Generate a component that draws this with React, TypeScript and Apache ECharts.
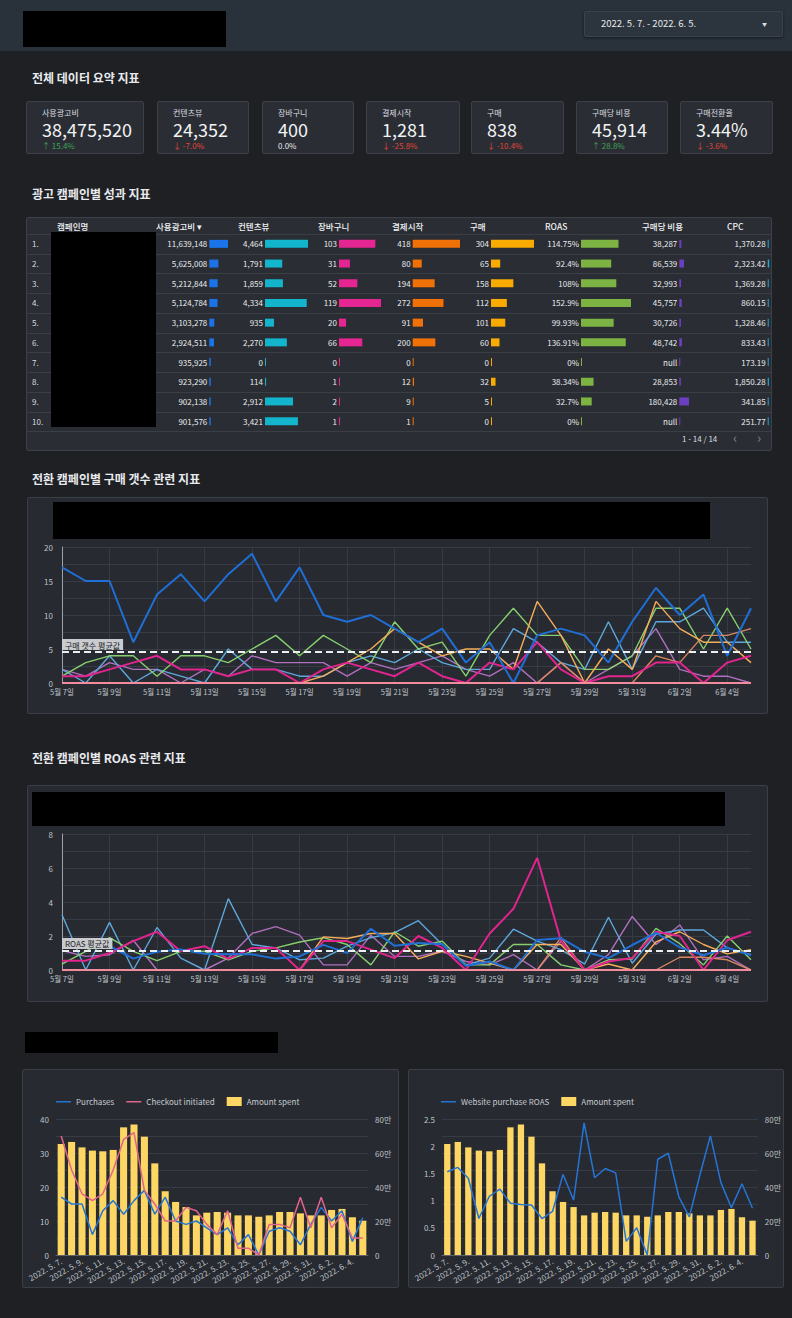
import React, { useEffect, useRef } from "react";
import * as echarts from "echarts";

const FONT = '"Noto Sans CJK KR", "Noto Sans", sans-serif';

// ---------- DATA ----------
const DATES = [
  "2022-05-07", "2022-05-08", "2022-05-09", "2022-05-10", "2022-05-11", "2022-05-12",
  "2022-05-13", "2022-05-14", "2022-05-15", "2022-05-16", "2022-05-17", "2022-05-18",
  "2022-05-19", "2022-05-20", "2022-05-21", "2022-05-22", "2022-05-23", "2022-05-24",
  "2022-05-25", "2022-05-26", "2022-05-27", "2022-05-28", "2022-05-29", "2022-05-30",
  "2022-05-31", "2022-06-01", "2022-06-02", "2022-06-03", "2022-06-04", "2022-06-05",
];

const KPI_LABELS = ["사용광고비", "컨텐츠뷰", "장바구니", "결제시작", "구매", "구매당 비용", "구매전환율"];
const KPI_VALUES = ["38,475,520", "24,352", "400", "1,281", "838", "45,914", "3.44%"];
const KPI_DELTAS = [15.4, -7.0, 0.0, -25.8, -10.4, 28.8, -3.6];

const TABLE_HEADERS = ["캠페인명", "사용광고비 ▾", "컨텐츠뷰", "장바구니", "결제시작", "구매", "ROAS", "구매당 비용", "CPC"];
const RANKS = ["1.", "2.", "3.", "4.", "5.", "6.", "7.", "8.", "9.", "10."];
const SPEND = [11639148, 5625008, 5212844, 5124784, 3103278, 2924511, 935925, 923290, 902138, 901576];
const CONTENT_VIEWS = [4464, 1791, 1859, 4334, 935, 2270, 0, 114, 2912, 3421];
const CARTS = [103, 31, 52, 119, 20, 66, 0, 1, 2, 1];
const CHECKOUTS = [418, 80, 194, 272, 91, 200, 0, 12, 9, 1];
const PURCHASES = [304, 65, 158, 112, 101, 60, 0, 32, 5, 0];
const ROAS = [114.75, 92.4, 108, 152.9, 99.93, 136.91, 0, 38.34, 32.7, 0];
const COST_PER_PURCHASE: (number | null)[] = [38287, 86539, 32993, 45757, 30726, 48742, null, 28853, 180428, null];
const CPC = [1370.28, 2323.42, 1369.28, 860.15, 1328.46, 833.43, 173.19, 1850.28, 341.85, 251.77];

// daily purchases per campaign
const P_C1 = [17, 15, 15, 6, 13, 16, 12, 16, 19, 12, 17, 10, 9, 10, 8, 6, 8, 3, 6, 0, 7, 8, 7, 3, 9, 14, 10, 13, 4, 11];
const P_C2 = [2, 1, 3, 2, 2, 0, 2, 1, 4, 3, 3, 3, 1, 3, 2, 3, 4, 2, 1, 3, 0, 3, 0, 2, 4, 8, 2, 1, 1, 0];
const P_C3 = [1, 3, 4, 4, 1, 4, 4, 3, 5, 7, 4, 7, 5, 3, 9, 5, 6, 1, 7, 11, 7, 7, 2, 2, 4, 11, 11, 5, 11, 5];
const P_C4 = [2, 0, 4, 0, 2, 1, 0, 5, 2, 2, 1, 1, 3, 4, 3, 5, 3, 2, 2, 8, 6, 3, 2, 9, 2, 9, 9, 11, 6, 6];
const P_C5 = [0, 0, 0, 0, 0, 0, 0, 0, 0, 0, 0, 1, 3, 5, 8, 6, 4, 5, 5, 2, 12, 7, 0, 5, 2, 12, 8, 6, 6, 3];
const P_C6 = [1, 1, 2, 3, 4, 2, 2, 1, 2, 2, 0, 2, 3, 2, 1, 3, 1, 0, 3, 2, 6, 2, 0, 1, 1, 3, 3, 0, 3, 4];
const P_C8 = [0, 0, 0, 0, 0, 0, 0, 0, 0, 0, 0, 0, 0, 0, 0, 0, 0, 0, 0, 0, 0, 3, 0, 0, 0, 4, 3, 7, 7, 8];
const P_ZERO = [0, 0, 0, 0, 0, 0, 0, 0, 0, 0, 0, 0, 0, 0, 0, 0, 0, 0, 0, 0, 0, 0, 0, 0, 0, 0, 0, 0, 0, 0];
const PURCHASE_AVG = 4.56;

// daily ROAS per campaign
const R_C1 = [1.53, 1.61, 1.41, 0.67, 1.08, 1.21, 0.95, 0.93, 0.92, 0.67, 0.8, 1.48, 1.01, 2.43, 1.42, 1.59, 1.51, 0.25, 0.5, 0, 1.76, 1.87, 1.07, 0.7, 1.47, 2.19, 1.33, 0.87, 1.31, 0.86];
const R_C2 = [1.15, 0.8, 0.9, 1.75, 0, 0, 0, 0.7, 2.15, 2.55, 2.05, 0.3, 0.3, 2.05, 0.8, 0.8, 1.1, 0.5, 0.3, 0.9, 0, 1.7, 0, 0.9, 3.15, 1.5, 2.65, 0.6, 0.8, 0];
const R_C3 = [0.35, 1.1, 1.9, 1.1, 0.55, 1.1, 1.1, 0.6, 1.1, 1.3, 1.65, 1.9, 1.5, 0.3, 2.25, 1.4, 1.7, 0.3, 0.3, 1.5, 1.5, 0.3, 0, 0.6, 0.65, 2.45, 1.55, 0.3, 2.0, 0.6];
const R_C4 = [3.25, 0, 2.8, 0, 2.5, 0.7, 0, 4.2, 1.5, 1.3, 0.6, 0.7, 1.4, 1.9, 2.2, 2.9, 1.5, 0.3, 0.7, 2.4, 1.7, 1.2, 0.35, 3.1, 0.4, 2.1, 2.35, 2.35, 1.3, 0.9];
const R_C5 = [0, 0, 0, 0, 0, 0, 0, 0, 0, 0, 0, 1.95, 1.85, 2.15, 2.15, 0.65, 1.1, 0.8, 0.4, 0, 1.5, 1.5, 0, 0.35, 0, 1.65, 2.25, 1.5, 0.95, 1.2];
const R_C6 = [0.55, 0.55, 1.0, 1.7, 2.25, 1.1, 1.4, 0.65, 1.3, 1.3, 0, 1.7, 1.7, 1.2, 0.7, 2.0, 1.3, 0, 2.15, 3.6, 6.6, 1.7, 0, 0.5, 0.7, 2.25, 2.0, 0, 1.75, 2.25];
const R_C8 = [0, 0, 0, 0, 0, 0, 0, 0, 0, 0, 0, 0, 0, 0, 0, 0, 0, 0, 0, 0, 0, 1.9, 0, 0, 0, 0, 0.75, 0.75, 0.6, 0];
const R_ZERO = [0, 0, 0, 0, 0, 0, 0, 0, 0, 0, 0, 0, 0, 0, 0, 0, 0, 0, 0, 0, 0, 0, 0, 0, 0, 0, 0, 0, 0, 0];
const ROAS_AVG = 1.12;

// top campaign daily detail
const AMOUNT_SPENT = [653000, 665000, 633000, 614000, 610000, 618000, 751000, 767000, 696000, 539000, 375000, 312000, 282000, 233000, 249000, 253000, 249000, 233000, 233000, 225000, 233000, 253000, 253000, 245000, 233000, 233000, 265000, 271000, 222000, 202000];
const CHECKOUT_INITIATED = [35, 25, 18, 16, 18, 25, 34, 36, 19, 15, 10, 10, 14, 13, 9, 6, 13, 2, 2, 0, 9, 9, 8, 17, 8, 17, 8, 12, 5, 5];

// ---------- helpers ----------
const koLabel = (d: string) => {
  const p = d.split("-");
  return `${+p[1]}월 ${+p[2]}일`;
};
const dotLabel = (d: string) => {
  const p = d.split("-");
  return `${p[0]}. ${+p[1]}. ${+p[2]}.`;
};
const intFmt = (v: number) => v.toLocaleString("en-US");
const decFmt = (v: number) => v.toLocaleString("en-US", { minimumFractionDigits: 2, maximumFractionDigits: 2 });

const LABEL_C = "#bfc3c9";
const GRID_C = "#373b43";
const LINE_ICON = "path://M0,0 L0.01,0 L0.01,0.01 Z M0,4 L15,4 L15,5.6 L0,5.6 Z M0,9 L0.01,9 L0.01,8.99 Z";

function EChart({ option, style }: { option: any; style: React.CSSProperties }) {
  const ref = useRef<HTMLDivElement>(null);
  useEffect(() => {
    const chart = echarts.init(ref.current!, undefined, { renderer: "svg" });
    chart.setOption(option);
    return () => chart.dispose();
  }, []);
  return <div ref={ref} style={{ position: "absolute", ...style }} />;
}

function Txt({ x, y, s, c = "#e8eaed", w = 400, children }: any) {
  return (
    <div
      style={{
        position: "absolute",
        left: x,
        top: y - s * 0.7,
        fontSize: s,
        lineHeight: `${s * 1.4}px`,
        color: c,
        fontWeight: w,
        whiteSpace: "nowrap",
        fontFamily: FONT,
      }}
    >
      {children}
    </div>
  );
}

function Box({ x, y, w, h, bg, border, radius = 2, shadow }: any) {
  return (
    <div
      style={{
        position: "absolute",
        left: x,
        top: y,
        width: w,
        height: h,
        background: bg,
        border: border ? `1px solid ${border}` : undefined,
        borderRadius: radius,
        boxSizing: "border-box",
        boxShadow: shadow,
      }}
    />
  );
}

// ---------- chart options ----------
function lineOption(series: any[], yMax: number, yStep: number, labelStep: number, avg: number, avgLabel: string, top: number) {
  return {
    animation: false,
    textStyle: { fontFamily: FONT },
    grid: { left: 36, right: 17, top, bottom: 32 },
    xAxis: {
      type: "category",
      data: DATES,
      boundaryGap: false,
      axisLine: { show: false },
      axisTick: { show: false },
      axisLabel: { interval: 1, formatter: koLabel, color: LABEL_C, fontSize: 7.5, margin: 5 },
      splitLine: { show: true, interval: 1, lineStyle: { color: GRID_C } },
    },
    yAxis: {
      type: "value",
      min: 0,
      max: yMax,
      interval: yStep,
      axisLine: { show: true, lineStyle: { color: "#9aa0a6" } },
      axisTick: { show: false },
      axisLabel: {
        color: LABEL_C,
        fontSize: 8,
        margin: 9,
        formatter: (v: number) => (Math.abs(v / labelStep - Math.round(v / labelStep)) < 1e-6 ? String(v) : ""),
      },
      splitLine: { lineStyle: { color: GRID_C } },
    },
    series: series.map((s) => ({
      type: "line",
      name: s.name,
      data: s.data,
      symbol: "none",
      z: s.z || 2,
      lineStyle: { color: s.color, width: s.width || 1.4 },
      itemStyle: { color: s.color },
      markLine: s.avg
        ? {
            silent: true,
            symbol: "none",
            data: [{ yAxis: avg }],
            lineStyle: { color: "#eceff1", type: [7, 4], width: 2 },
            label: {
              show: true,
              position: "insideStartTop",
              formatter: avgLabel,
              color: "#202124",
              backgroundColor: "#c9cbce",
              padding: [2, 3, 1, 3],
              fontSize: 8,
              distance: [0, 2],
            },
          }
        : undefined,
    })),
  };
}

const COLORS = {
  c1: "#1f6fd6",
  c2: "#b06fbf",
  c3: "#86cf6e",
  c4: "#5ea7dc",
  c5: "#f6ad5a",
  c6: "#e2248f",
  c8: "#d9875f",
  zero: "#f28b9c",
};

const purchaseOption = lineOption(
  [
    { name: "c2", data: P_C2, color: COLORS.c2 },
    { name: "c4", data: P_C4, color: COLORS.c4 },
    { name: "c3", data: P_C3, color: COLORS.c3 },
    { name: "c8", data: P_C8, color: COLORS.c8 },
    { name: "c5", data: P_C5, color: COLORS.c5 },
    { name: "c6", data: P_C6, color: COLORS.c6, width: 2 },
    { name: "c1", data: P_C1, color: COLORS.c1, width: 2 },
    { name: "zero", data: P_ZERO, color: COLORS.zero, width: 2, z: 5, avg: true },
  ],
  20, 2.5, 5, PURCHASE_AVG, "구매 갯수 평균값", 50
);

const roasOption = lineOption(
  [
    { name: "c2", data: R_C2, color: COLORS.c2 },
    { name: "c4", data: R_C4, color: COLORS.c4 },
    { name: "c3", data: R_C3, color: COLORS.c3 },
    { name: "c8", data: R_C8, color: COLORS.c8 },
    { name: "c5", data: R_C5, color: COLORS.c5 },
    { name: "c6", data: R_C6, color: COLORS.c6, width: 2 },
    { name: "c1", data: R_C1, color: COLORS.c1, width: 2 },
    { name: "zero", data: R_ZERO, color: COLORS.zero, width: 2, z: 5, avg: true },
  ],
  8, 1, 2, ROAS_AVG, "ROAS 평균값", 49
);

const manFmt = (v: number) => (v === 0 ? "0" : v % 200000 === 0 ? `${v / 10000}만` : "");

function comboOption(lines: any[], leftMax: number, leftStep: number, leftLabelStep: number, grid: any, legendLeft: number, barW: string, leftSplit: boolean) {
  return {
    animation: false,
    textStyle: { fontFamily: FONT },
    legend: {
      top: 23,
      left: legendLeft,
      itemWidth: 15,
      itemHeight: 9,
      itemGap: 12,
      textStyle: { color: "#c8ccd2", fontSize: 8 },
      data: [...lines.map((l) => ({ name: l.name, icon: LINE_ICON })), { name: "Amount spent", icon: "rect" }],
    },
    grid,
    xAxis: {
      type: "category",
      data: DATES,
      axisLine: { show: true, lineStyle: { color: "#5f6368" } },
      axisTick: { show: false },
      axisLabel: { interval: 1, rotate: 30, formatter: dotLabel, color: LABEL_C, fontSize: 8, margin: 5 },
    },
    yAxis: [
      {
        type: "value",
        min: 0,
        max: leftMax,
        interval: leftStep,
        axisLine: { show: false },
        axisTick: { show: false },
        axisLabel: {
          color: LABEL_C,
          fontSize: 8,
          margin: 7,
          formatter: (v: number) => (Math.abs(v / leftLabelStep - Math.round(v / leftLabelStep)) < 1e-6 ? String(v) : ""),
        },
        splitLine: { show: leftSplit, lineStyle: { color: GRID_C } },
      },
      {
        type: "value",
        min: 0,
        max: 800000,
        interval: 100000,
        axisLine: { show: false },
        axisTick: { show: false },
        axisLabel: { color: LABEL_C, fontSize: 8, margin: 7, formatter: manFmt },
        splitLine: { show: !leftSplit, lineStyle: { color: GRID_C } },
      },
    ],
    series: [
      {
        name: "Amount spent",
        type: "bar",
        yAxisIndex: 1,
        data: AMOUNT_SPENT,
        barWidth: barW,
        itemStyle: { color: "#fdd663" },
      },
      ...lines.map((l) => ({
        name: l.name,
        type: "line",
        data: l.data,
        symbol: "none",
        lineStyle: { color: l.color, width: 1.5 },
        itemStyle: { color: l.color },
      })),
    ],
  };
}

const leftComboOption = comboOption(
  [
    { name: "Purchases", data: P_C1, color: "#2475d6" },
    { name: "Checkout initiated", data: CHECKOUT_INITIATED, color: "#e0648c" },
  ],
  40, 5, 10,
  { left: 34, right: 31, top: 50, bottom: 33 },
  29, "68%", true
);

const rightComboOption = comboOption(
  [{ name: "Website purchase ROAS", data: R_C1, color: "#2475d6" }],
  2.5, 0.5, 0.5,
  { left: 34, right: 26, top: 50, bottom: 33 },
  28, "60%", false
);

const TABLE_COLS = [
  { values: SPEND, color: "#1a73e8", left: 183.3, width: 40, max: 24900000, fmt: (i: number) => intFmt(SPEND[i]) },
  { values: CONTENT_VIEWS, color: "#12b5cb", left: 239, width: 50, max: 5191, fmt: (i: number) => intFmt(CONTENT_VIEWS[i]) },
  { values: CARTS, color: "#e52592", left: 313, width: 50, max: 141.7, fmt: (i: number) => intFmt(CARTS[i]) },
  { values: CHECKOUTS, color: "#f07108", left: 386.7, width: 55, max: 486, fmt: (i: number) => intFmt(CHECKOUTS[i]) },
  { values: PURCHASES, color: "#f9ab00", left: 465, width: 50, max: 353.5, fmt: (i: number) => intFmt(PURCHASES[i]) },
  { values: ROAS, color: "#7cb342", left: 555, width: 55, max: 168.2, fmt: (i: number) => `${ROAS[i]}%` },
  {
    values: COST_PER_PURCHASE.map((v) => (v == null ? 0 : v)),
    color: "#6a3fc2",
    left: 653.3,
    width: 20,
    max: 372000,
    fmt: (i: number) => (COST_PER_PURCHASE[i] == null ? "null" : intFmt(COST_PER_PURCHASE[i] as number)),
  },
  { values: CPC, color: "#1ea7d8", left: 741.7, width: 4, max: 6200, fmt: (i: number) => decFmt(CPC[i]) },
];

const tableOption = {
  animation: false,
  textStyle: { fontFamily: FONT },
  grid: TABLE_COLS.map((c) => ({ left: c.left, width: c.width, top: 0, bottom: 0 })),
  xAxis: TABLE_COLS.map((c, i) => ({ gridIndex: i, type: "value", min: 0, max: c.max, show: false })),
  yAxis: TABLE_COLS.map((c, i) => ({ gridIndex: i, type: "category", data: RANKS, inverse: true, show: false })),
  series: TABLE_COLS.map((c, i) => ({
    type: "bar",
    xAxisIndex: i,
    yAxisIndex: i,
    data: c.values,
    barWidth: 8,
    barMinHeight: 1,
    itemStyle: { color: c.color },
    label: {
      show: true,
      position: "left",
      distance: 2,
      color: "#e8eaed",
      fontSize: 8,
      formatter: (p: any) => c.fmt(p.dataIndex),
    },
  })),
};

// ---------- layout ----------
const CARD_X = [26, 157, 262, 366, 471, 576, 680];
const CARD_W = [118, 92, 92, 94, 93, 92, 93];
const HEADER_X = [57, 156, 238, 318, 392, 470, 545, 642, 727];
const ROW_TOP = 234;
const ROW_H = 19.74;

export default function App() {
  return (
    <div
      style={{
        position: "absolute",
        left: 0,
        top: 0,
        width: 792,
        height: 1318,
        background: "#1f2024",
        overflow: "hidden",
        fontFamily: FONT,
      }}
    >
      {/* header */}
      <Box x={0} y={0} w={792} h={51} bg="#29313a" radius={0} />
      <Box x={23} y={11} w={203} h={36} bg="#000" radius={0} />
      <Box x={584} y={11} w={199} h={26} bg="#2c343d" border="#3a434d" shadow="0 1px 3px rgba(0,0,0,0.5)" />
      <Txt x={601} y={24} s={9.5}>2022. 5. 7. - 2022. 6. 5.</Txt>
      <Txt x={762} y={23.5} s={5} c="#dadce0">▼</Txt>

      {/* KPI */}
      <Txt x={32} y={78} s={12} w={700}>전체 데이터 요약 지표</Txt>
      {KPI_LABELS.map((lab, i) => {
        const d = KPI_DELTAS[i];
        const col = d > 0 ? "#3fa357" : d < 0 ? "#e0453a" : "#e8eaed";
        const txt = d > 0 ? `↑ ${d.toFixed(1)}%` : d < 0 ? `↓ ${d.toFixed(1)}%` : `${d.toFixed(1)}%`;
        return (
          <React.Fragment key={lab}>
            <Box x={CARD_X[i]} y={101} w={CARD_W[i]} h={53} bg="#2a2d33" border="#3c4047" />
            <Txt x={CARD_X[i] + 16} y={113} s={8} c="#dadce0">{lab}</Txt>
            <Txt x={CARD_X[i] + 16} y={130} s={18} c="#f1f3f4">{KPI_VALUES[i]}</Txt>
            <Txt x={CARD_X[i] + 16} y={146} s={8} c={col}>{txt}</Txt>
          </React.Fragment>
        );
      })}

      {/* table */}
      <Txt x={32} y={194} s={12} w={700}>광고 캠페인별 성과 지표</Txt>
      <Box x={26} y={217} w={746} h={234} bg="#2a2d33" border="#3c4047" />
      {HEADER_X.map((x, i) => (
        <Txt key={i} x={x} y={227} s={8.5} c="#f1f3f4" w={500}>{TABLE_HEADERS[i]}</Txt>
      ))}
      {RANKS.map((r, i) => (
        <React.Fragment key={r}>
          <div
            style={{
              position: "absolute",
              left: 27,
              top: ROW_TOP + ROW_H * i,
              width: 744,
              height: 1,
              background: "#3a3e45",
            }}
          />
          <Txt x={32} y={ROW_TOP + ROW_H * (i + 0.5)} s={8} c="#dadce0">{r}</Txt>
        </React.Fragment>
      ))}
      <div style={{ position: "absolute", left: 27, top: ROW_TOP + ROW_H * 10, width: 744, height: 1, background: "#3a3e45" }} />
      <EChart option={tableOption} style={{ left: 26, top: ROW_TOP, width: 746, height: ROW_H * 10 }} />
      <Box x={51} y={232} w={105} h={195} bg="#000" radius={0} />
      <Txt x={682} y={439} s={8} c="#dadce0">1 - 14 / 14</Txt>
      <Txt x={733} y={438} s={14} c="#7f858c">‹</Txt>
      <Txt x={757} y={438} s={14} c="#7f858c">›</Txt>

      {/* purchases line chart */}
      <Txt x={32} y={479} s={12} w={700}>전환 캠페인별 구매 갯수 관련 지표</Txt>
      <Box x={27} y={497} w={741} h={217} bg="#272a30" border="#3a3e45" />
      <EChart option={purchaseOption} style={{ left: 26, top: 497, width: 742, height: 218 }} />
      <Box x={53} y={502} w={657} h={37} bg="#000" radius={0} />

      {/* ROAS line chart */}
      <Txt x={32} y={758} s={12} w={700}>전환 캠페인별 ROAS 관련 지표</Txt>
      <Box x={27} y={785} w={741} h={217} bg="#272a30" border="#3a3e45" />
      <EChart option={roasOption} style={{ left: 26, top: 785, width: 742, height: 217 }} />
      <Box x={32} y={792} w={693} h={34} bg="#000" radius={0} />

      {/* bottom section */}
      <Box x={25} y={1032} w={253} h={21} bg="#000" radius={0} />
      <Box x={22} y={1069} w={377} h={219} bg="#272a30" border="#3a3e45" />
      <EChart option={leftComboOption} style={{ left: 22, top: 1069, width: 377, height: 219 }} />
      <Box x={408} y={1069} w={376} h={219} bg="#272a30" border="#3a3e45" />
      <EChart option={rightComboOption} style={{ left: 408, top: 1069, width: 376, height: 219 }} />
    </div>
  );
}
